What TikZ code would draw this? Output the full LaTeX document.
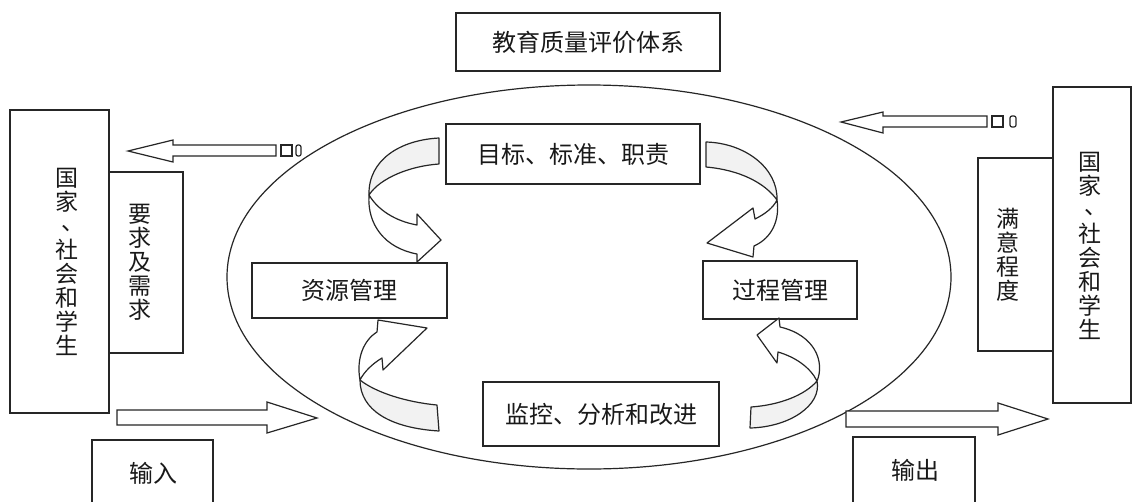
\documentclass[tikz,border=0pt]{standalone}
\usepackage{fontspec}
\newfontfamily\cjk{Noto Sans CJK SC}
\newcommand\vdun{\hspace*{12pt}\raisebox{4pt}{、}}
\begin{document}
\begin{tikzpicture}[x=1pt,y=-1pt,
  box/.style={draw=black!85, line width=1.2pt, rectangle, inner sep=0pt},
  txt/.style={inner sep=0pt, font=\cjk\fontsize{24}{25}\selectfont, text=black!90},
  vtext/.style={align=center, inner sep=0pt, font=\cjk\fontsize{23}{24}\selectfont, text=black!90},
  band/.style={draw=black!85, line width=1.2pt, line join=round, fill=white},
  backband/.style={band, fill=black!5},
  blockarrow/.style={draw=black!85, line width=1.2pt, fill=white, line join=miter}]
\useasboundingbox (0,0) rectangle (1132,501);
\clip (0,0) rectangle (1132,501);
\fill[white] (0,0) rectangle (1132,501);

% system ellipse
\draw[black!85, line width=1.2pt] (589,277) ellipse [x radius=362, y radius=192];

% title
\node[box, txt, minimum width=264pt, minimum height=58pt] (title) at (588,42) {教育质量评价体系};

% left side
\node[box, minimum width=99pt, minimum height=303pt] (lbig) at (59.5,261.5) {};
\node[vtext] (lbigt) at (67,262) {国\\家\\\vdun\\社\\会\\和\\学\\生};
\node[box, minimum width=74pt, minimum height=181pt] (req) at (146,262.5) {};
\node[vtext] (reqt) at (140,262) {要\\求\\及\\需\\求};
\node[box, minimum width=121pt, minimum height=80pt] (inbox) at (152.5,480) {};
\node[txt] (intxt) at (153,473) {输入};

% right side
\node[box, minimum width=78pt, minimum height=316pt] (rbig) at (1092,245) {};
\node[vtext] (rbigt) at (1090,246) {国\\家\\\vdun\\社\\会\\和\\学\\生};
\node[box, minimum width=75pt, minimum height=193pt] (sat) at (1015.5,254.5) {};
\node[vtext] (satt) at (1008,255) {满\\意\\程\\度};
\node[box, minimum width=122pt, minimum height=80pt] (outbox) at (914,477) {};
\node[txt] (outtxt) at (915,470) {输出};

% inner boxes
\node[box, txt, minimum width=254pt, minimum height=60pt] (goal) at (573,154) {目标、标准、职责};
\node[box, txt, minimum width=195pt, minimum height=55pt] (res) at (349.5,290.5) {资源管理};
\node[box, txt, minimum width=154pt, minimum height=58pt] (proc) at (780,290) {过程管理};
\node[box, txt, minimum width=236pt, minimum height=64pt] (mon) at (601,414) {监控、分析和改进};

% block arrows
\draw[blockarrow] (128,151) -- (173,140) -- (173,145) -- (276,145) -- (276,156) -- (173,156) -- (173,162) -- cycle;
\draw[black!85, line width=1.2pt] (281,145) rectangle (292,156);
\draw[black!85, line width=1.2pt, rounded corners=2pt] (296,145) rectangle (301,156);

\draw[blockarrow] (841,122) -- (883,112) -- (883,116) -- (987,116) -- (987,127) -- (883,127) -- (883,133) -- cycle;
\draw[black!85, line width=1.2pt] (992,116) rectangle (1003,127);
\draw[black!85, line width=1.2pt, rounded corners=2pt] (1010,116) rectangle (1016,127);

\draw[blockarrow] (117,410) -- (267,410) -- (267,402) -- (317,418) -- (267,433) -- (267,425) -- (117,425) -- cycle;
\draw[blockarrow] (846,411) -- (998,411) -- (998,403) -- (1048,419) -- (998,435) -- (998,427) -- (846,427) -- cycle;

% curved arrow A (goal -> resources)
\draw[backband] (439,138) .. controls (400,140) and (368,160) .. (369,195)
  .. controls (380,178) and (410,166) .. (439,164) -- cycle;
\draw[band] (369,195) .. controls (367,225) and (385,248) .. (417,254) -- (417,262) -- (441,240)
  -- (417,214) -- (417,225) .. controls (395,221) and (378,210) .. (369,195) -- cycle;

% curved arrow B (goal -> process)
\draw[backband] (706,142) .. controls (745,143) and (778,168) .. (777,200)
  .. controls (765,183) and (740,170) .. (706,167) -- cycle;
\draw[band] (777,200) .. controls (780,220) and (772,238) .. (754,246) -- (753,257) -- (707,243)
  -- (753,208) -- (755,219) .. controls (765,214) and (773,208) .. (777,200) -- cycle;

% curved arrow C (monitor -> resources)
\draw[backband] (360,380) .. controls (375,392) and (405,402) .. (437,405) -- (439,431)
  .. controls (390,428) and (360,410) .. (360,380) -- cycle;
\draw[band] (360,380) .. controls (356,358) and (364,340) .. (377,332) -- (378,320) -- (427,328)
  -- (383,370) -- (382,358) .. controls (372,364) and (364,372) .. (360,380) -- cycle;

% curved arrow D (monitor -> process)
\draw[backband] (751,407) .. controls (780,405) and (805,395) .. (817,381)
  .. controls (822,405) and (790,427) .. (750,428) -- cycle;
\draw[band] (817,381) .. controls (825,362) and (815,335) .. (780,327) -- (779,318) -- (757,335)
  -- (777,363) -- (778,352) .. controls (795,357) and (810,367) .. (817,381) -- cycle;
\end{tikzpicture}
\end{document}
